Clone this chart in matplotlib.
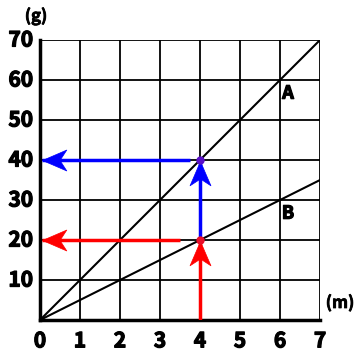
import matplotlib
matplotlib.use("Agg")
import matplotlib.pyplot as plt
from matplotlib.path import Path
import matplotlib.patheffects as pe
import numpy as np

plt.rcParams['font.family'] = ['Noto Sans CJK JP', 'DejaVu Sans']

x_ticks = [0, 1, 2, 3, 4, 5, 6, 7]
y_ticks = [10, 20, 30, 40, 50, 60, 70]
line_a_x = [0, 7]
line_a_y = [0, 70]
line_b_x = [0, 7]
line_b_y = [0, 35]
point_red = (4, 20)
point_blue = (4, 40)

fig = plt.figure(figsize=(3.6, 3.6), dpi=100)
ax = fig.add_axes([0.111, 0.111, 0.778, 0.778])
ax.set_xlim(0, 7)
ax.set_ylim(0, 70)

for xv in x_ticks[1:]:
    ax.plot([xv, xv], [0, 70], color='black', lw=1.3, solid_capstyle='butt', zorder=1)
for yv in y_ticks:
    ax.plot([0, 7], [yv, yv], color='black', lw=1.3, solid_capstyle='butt', zorder=1)

ax.plot(line_a_x, line_a_y, color='black', lw=1.5, zorder=2)
ax.plot(line_b_x, line_b_y, color='black', lw=1.5, zorder=2)

for s in ['top', 'right']:
    ax.spines[s].set_visible(False)
ax.spines['left'].set_linewidth(2.5)
ax.spines['bottom'].set_linewidth(2.5)
ax.set_xticks([])
ax.set_yticks([])

def head_marker(angle_deg):
    v = np.array([[0, 0], [-1, 0.43], [-0.72, 0], [-1, -0.43], [0, 0]])
    a = np.deg2rad(angle_deg)
    R = np.array([[np.cos(a), -np.sin(a)], [np.sin(a), np.cos(a)]])
    v = v @ R.T
    return Path(v, [Path.MOVETO, Path.LINETO, Path.LINETO, Path.LINETO, Path.CLOSEPOLY])

def arrow(start, end, color, angle):
    ax.plot([start[0], end[0]], [start[1], end[1]], color=color, lw=2.5,
            solid_capstyle='butt', zorder=3)
    ax.plot([end[0]], [end[1]], marker=head_marker(angle), ms=35, color=color,
            mec=color, mew=0.5, linestyle='none', zorder=4, clip_on=False)

arrow((4, 0), (4, 19.8), 'red', 90)
arrow((3.5, 20), (0.05, 20), 'red', 180)
arrow((4, 20), (4, 39.8), 'blue', 90)
arrow((3.75, 40), (0.05, 40), 'blue', 180)

ax.plot(*point_red, 'o', ms=5, color='#e8102a', zorder=5)
ax.plot(*point_blue, 'o', ms=5, color='#5a10c8', zorder=5)

bold = [pe.withStroke(linewidth=0.9, foreground='black')]

ax.text(6.2, 56.7, 'A', fontsize=13, fontweight='bold', ha='center', va='center', path_effects=bold)
ax.text(6.2, 26.7, 'B', fontsize=13, fontweight='bold', ha='center', va='center', path_effects=bold)

for xv in x_ticks:
    ax.text(xv, -5.2, str(xv), fontsize=15, fontweight='bold', ha='center', va='center',
            clip_on=False, path_effects=bold)
for yv in y_ticks:
    ax.text(-0.48, yv, str(yv), fontsize=15, fontweight='bold', ha='center', va='center',
            clip_on=False, path_effects=bold)

fig.text(36/360, 1 - 16/360, '(g)', fontsize=12, fontweight='bold', ha='center', va='center',
         path_effects=[pe.withStroke(linewidth=0.5, foreground='black')])
fig.text(340/360, 1 - 303/360, '(m)', fontsize=12, fontweight='bold', ha='center', va='center',
         path_effects=[pe.withStroke(linewidth=0.5, foreground='black')])

fig.savefig('out.png', dpi=100)
